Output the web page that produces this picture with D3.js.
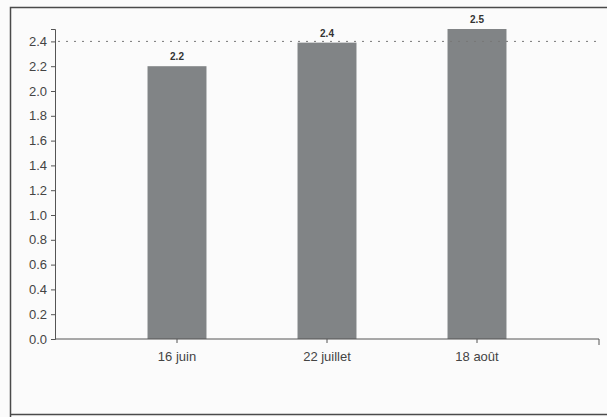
<!DOCTYPE html>
<html><head><meta charset="utf-8">
<script src="https://cdn.jsdelivr.net/npm/d3@7"></script>
<style>body{margin:0;background:#fbfbfb;}svg{display:block;}</style>
</head><body>
<svg id="c" width="607" height="417"></svg>
<script>
const categories = ["16 juin", "22 juillet", "18 août"];
const values = [2.2, 2.39, 2.5];
const yTicks = [0, 0.2, 0.4, 0.6, 0.8, 1.0, 1.2, 1.4, 1.6, 1.8, 2.0, 2.2, 2.4];
const refValue = [2.4];

const svg = d3.select("#c");
const axisX0 = 55, axisX1 = 599;
const y = d3.scaleLinear().domain([0, 2.5]).range([339, 29]);
const x = d3.scaleBand().domain(categories).range([102, 552]).paddingInner(0.607).paddingOuter(0.3035);

// outer frame
svg.append("path").attr("d", "M10.5,417 L10.5,7.5 L607,7.5 M10.5,414.5 L607,414.5")
  .attr("fill", "none").attr("stroke", "#4a4a4a").attr("stroke-width", 1.5);

// bars
svg.selectAll("rect.bar").data(values).join("rect").attr("class", "bar")
  .attr("x", (d, i) => x(categories[i])).attr("width", x.bandwidth())
  .attr("y", d => y(d)).attr("height", d => y(0) - y(d))
  .attr("fill", "#818486");

// reference dotted line
svg.selectAll("line.ref").data(refValue).join("line").attr("class", "ref")
  .attr("x1", axisX0 + 3).attr("x2", axisX1).attr("y1", d => y(d)).attr("y2", d => y(d))
  .attr("stroke", "#777").attr("stroke-width", 1).attr("stroke-dasharray", "2,6");

// value labels
svg.selectAll("text.val").data(values).join("text").attr("class", "val")
  .attr("x", (d, i) => x(categories[i]) + x.bandwidth() / 2)
  .attr("y", d => y(d) - 6)
  .attr("text-anchor", "middle")
  .attr("font-family", "Liberation Sans, Arial, sans-serif")
  .attr("font-size", 10).attr("font-weight", "bold").attr("fill", "#333")
  .text(d => d3.format(".1f")(d));

// y axis
const yAxis = d3.axisLeft(y).tickValues(yTicks).tickFormat(d3.format(".1f")).tickSize(4).tickSizeOuter(4);
const gy = svg.append("g").attr("transform", `translate(${axisX0},0)`).call(yAxis);
gy.select(".domain").attr("stroke", "#555");
gy.selectAll(".tick line").attr("stroke", "#555");
gy.selectAll(".tick text").attr("font-family", "Liberation Sans, Arial, sans-serif")
  .attr("font-size", 13).attr("fill", "#444").attr("x", -8);

// x axis
const xAxis = d3.axisBottom(x).tickSize(4).tickSizeOuter(0);
const gx = svg.append("g").attr("transform", `translate(0,${y(0)})`).call(xAxis);
gx.select(".domain").attr("d", `M${axisX0},0H${axisX1}V6`).attr("stroke", "#555").attr("fill", "none");
gx.selectAll(".tick line").attr("stroke", "#555");
gx.selectAll(".tick text").attr("font-family", "Liberation Sans, Arial, sans-serif")
  .attr("font-size", 13).attr("fill", "#444").attr("dy", 0).attr("y", 22);
</script>
</body></html>
